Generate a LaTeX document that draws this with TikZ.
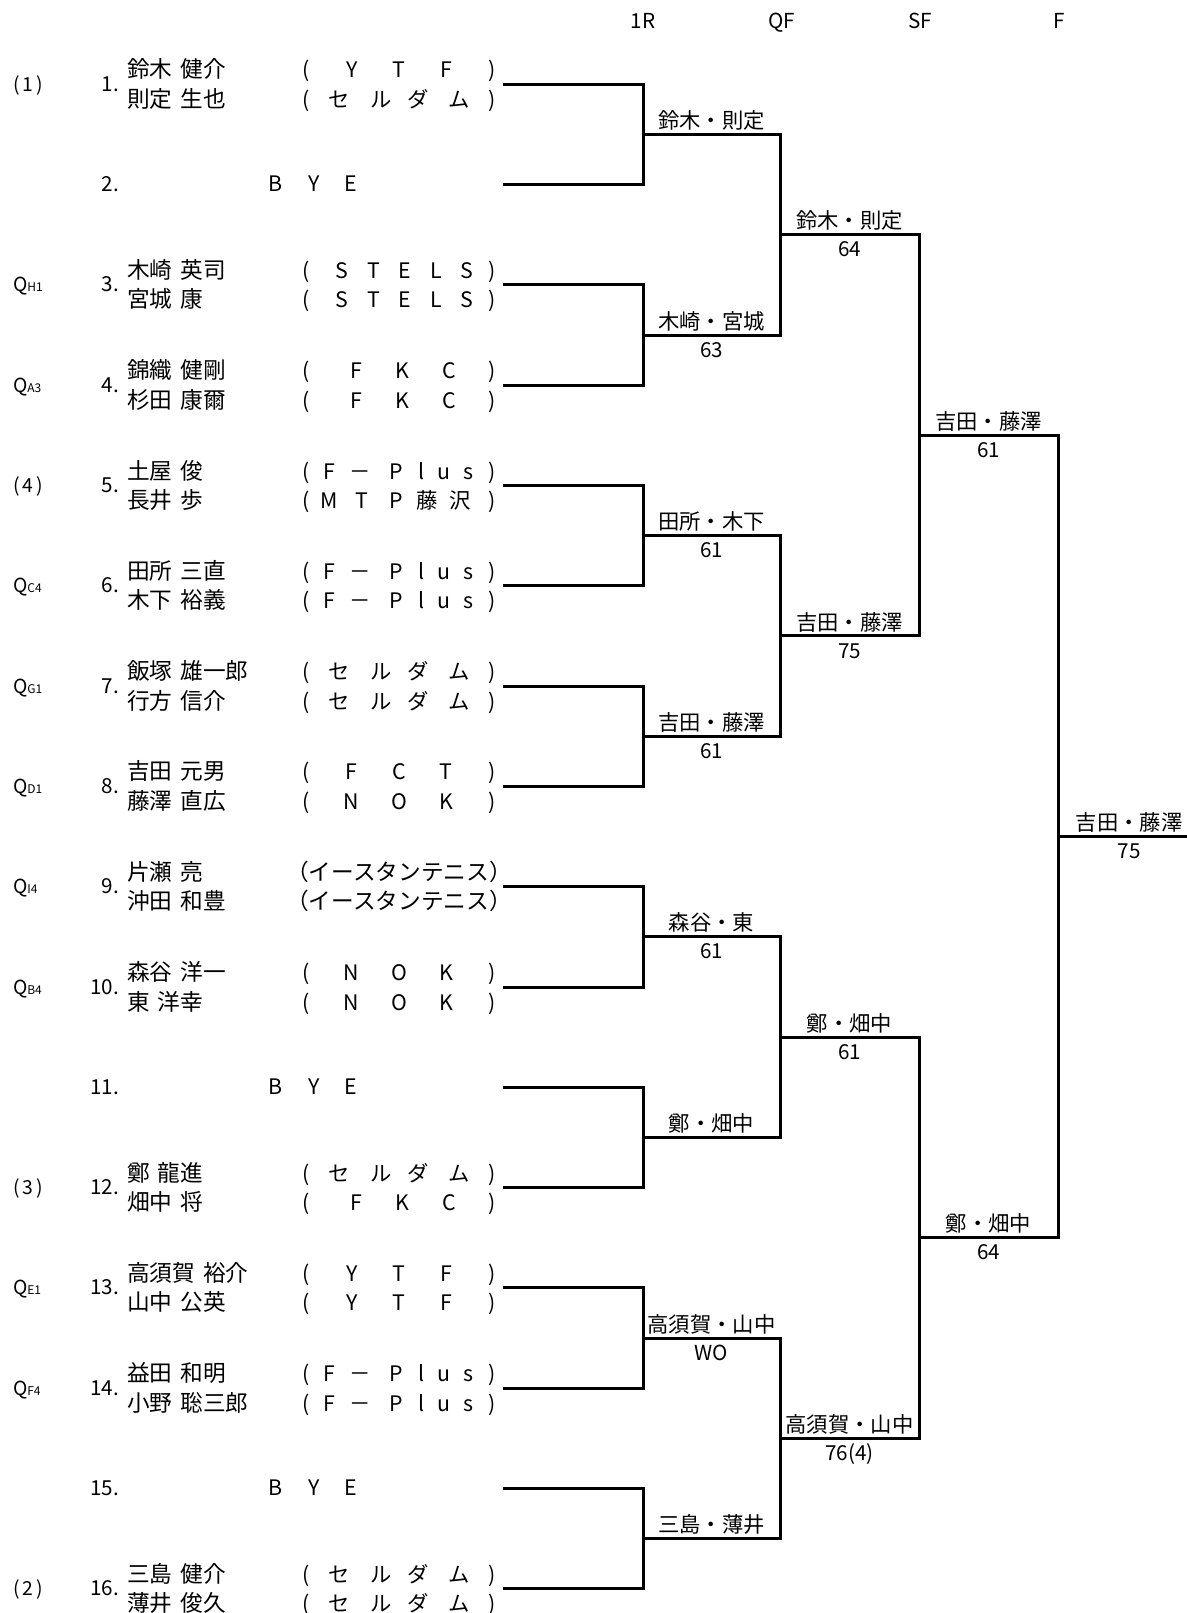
\documentclass[tikz,border=0pt]{standalone}
\usepackage{fontspec}
\usetikzlibrary{calc}
\setmainfont{Noto Sans CJK JP}
\newcommand\gp{\hspace{0.36em}}
\newcommand\qs[1]{Q{\fontsize{9}{9}\selectfont #1}}
\def\tYTF{306/{(},352/Y,399/T,446/F,492/{)}}
\def\tSEL{306/{(},339/セ,381/ル,418/ダ,459/ム,492/{)}}
\def\tSTE{306/{(},342/S,374/T,405/E,436/L,467/S,492/{)}}
\def\tFKC{306/{(},356/F,402/K,449/C,492/{)}}
\def\tFP{306/{(},329/F,360/－,396/P,422/l,444/u,468/s,492/{)}}
\def\tMTP{306/{(},329/M,362/T,396/P,427/藤,460/沢,492/{)}}
\def\tFCT{306/{(},351/F,399/C,446/T,492/{)}}
\def\tNOK{306/{(},351/N,399/O,446/K,492/{)}}
\def\tEST{399/{\fontsize{17}{18}\selectfont（イースタンテニス）}}
\newcommand\pairentry[7]{%
  \node[num] (n#1) at (119,{#2+2}) {#1.};
  \node[seed] (sd#1) at (13,{#2+2}) {#3};
  \node[nm] (pa#1) at (127,{#2-11.5}) {#4};
  \node[nm] (pb#1) at (127,{#2+18}) {#6};
  \foreach \xx/\cc [count=\k] in #5 {\node[tm] (ta#1-\k) at (\xx,{#2-11.5}) {\cc};}
  \foreach \xx/\cc [count=\k] in #7 {\node[tm] (tb#1-\k) at (\xx,{#2+18}) {\cc};}
}
\newcommand\byeentry[2]{%
  \node[num] (n#1) at (119,{#2+2}) {#1.};
  \node[tm] (bb#1) at (276,{#2+2}) {B};
  \node[tm] (by#1) at (314,{#2+2}) {Y};
  \node[tm] (be#1) at (351,{#2+2}) {E};
}
\begin{document}
\begin{tikzpicture}[x=0.75pt,y=-0.75pt,
  every node/.style={inner sep=0pt,outer sep=0pt,text height=0.76em,text depth=0pt},
  nm/.style={font=\fontsize{17}{18}\selectfont,anchor=west},
  tm/.style={font=\fontsize{16}{17}\selectfont},
  num/.style={font=\fontsize{15.5}{16}\selectfont,anchor=east},
  seed/.style={font=\fontsize{14.5}{16}\selectfont,anchor=west},
  hdr/.style={font=\fontsize{15.5}{16}\selectfont},
  win/.style={font=\fontsize{16}{17}\selectfont},
  sc/.style={font=\fontsize{15.5}{16}\selectfont},
  br/.style={line width=2.25pt,line join=miter}]
\useasboundingbox (0,0) rectangle (1186,1613);
% headers
\node[hdr] (h1) at (643,23) {1R};
\node[hdr] (h2) at (782,23) {QF};
\node[hdr] (h3) at (920,23) {SF};
\node[hdr] (h4) at (1059,23) {F};
% entries
\pairentry{1}{84.3}{(\,1\,)}{鈴木\gp 健介}{\tYTF}{則定\gp 生也}{\tSEL}
\byeentry{2}{184.6}
\pairentry{3}{284.9}{\qs{H1}}{木崎\gp 英司}{\tSTE}{宮城\gp 康}{\tSTE}
\pairentry{4}{385.2}{\qs{A3}}{錦織\gp 健剛}{\tFKC}{杉田\gp 康爾}{\tFKC}
\pairentry{5}{485.5}{(\,4\,)}{土屋\gp 俊}{\tFP}{長井\gp 歩}{\tMTP}
\pairentry{6}{585.8}{\qs{C4}}{田所\gp 三直}{\tFP}{木下\gp 裕義}{\tFP}
\pairentry{7}{686.1}{\qs{G1}}{飯塚\gp 雄一郎}{\tSEL}{行方\gp 信介}{\tSEL}
\pairentry{8}{786.4}{\qs{D1}}{吉田\gp 元男}{\tFCT}{藤澤\gp 直広}{\tNOK}
\pairentry{9}{886.7}{\qs{I4}}{片瀬\gp 亮}{\tEST}{沖田\gp 和豊}{\tEST}
\pairentry{10}{987.0}{\qs{B4}}{森谷\gp 洋一}{\tNOK}{東\gp 洋幸}{\tNOK}
\byeentry{11}{1087.3}
\pairentry{12}{1187.6}{(\,3\,)}{鄭\gp 龍進}{\tSEL}{畑中\gp 将}{\tFKC}
\pairentry{13}{1287.9}{\qs{E1}}{高須賀\gp 裕介}{\tYTF}{山中\gp 公英}{\tYTF}
\pairentry{14}{1388.2}{\qs{F4}}{益田\gp 和明}{\tFP}{小野\gp 聡三郎}{\tFP}
\byeentry{15}{1488.5}
\pairentry{16}{1588.8}{(\,2\,)}{三島\gp 健介}{\tSEL}{薄井\gp 俊久}{\tSEL}
% bracket points
\foreach \i in {1,...,16} {\coordinate (s\i) at (503,{84.3+100.3*(\i-1)});}
\foreach \i in {1,...,8} {\coordinate (a\i) at (643,{134.45+200.6*(\i-1)});}
\foreach \i in {1,...,4} {\coordinate (b\i) at (780,{234.75+401.2*(\i-1)});}
\coordinate (c1) at (919,435.35);
\coordinate (c2) at (919,1237.75);
\coordinate (d1) at (1058,836.55);
\coordinate (e1) at (1190,836.55);
% brackets
\foreach \i [evaluate=\i as \j using int(2*\i-1), evaluate=\i as \m using int(2*\i)] in {1,...,8}
  {\draw[br] (s\j) -| (a\i) |- (s\m);}
\foreach \i [evaluate=\i as \j using int(2*\i-1), evaluate=\i as \m using int(2*\i)] in {1,...,4}
  {\draw[br] (a\j) -| (b\i) |- (a\m);}
\draw[br] (b1) -| (c1) |- (b2);
\draw[br] (b3) -| (c2) |- (b4);
\draw[br] (c1) -| (d1) |- (c2);
\draw[br] (d1) -- (e1);
% winners and scores
\node[win] (wa1) at ($(a1)+(68.5,-11)$) {鈴木・則定};
\node[win] (wa2) at ($(a2)+(68.5,-11)$) {木崎・宮城};
\node[sc]  (sa2) at ($(a2)+(68.5,17)$) {63};
\node[win] (wa3) at ($(a3)+(68.5,-11)$) {田所・木下};
\node[sc]  (sa3) at ($(a3)+(68.5,17)$) {61};
\node[win] (wa4) at ($(a4)+(68.5,-11)$) {吉田・藤澤};
\node[sc]  (sa4) at ($(a4)+(68.5,17)$) {61};
\node[win] (wa5) at ($(a5)+(68.5,-11)$) {森谷・東};
\node[sc]  (sa5) at ($(a5)+(68.5,17)$) {61};
\node[win] (wa6) at ($(a6)+(68.5,-11)$) {鄭・畑中};
\node[win] (wa7) at ($(a7)+(68.5,-11)$) {高須賀・山中};
\node[sc]  (sa7) at ($(a7)+(68.5,17)$) {WO};
\node[win] (wa8) at ($(a8)+(68.5,-11)$) {三島・薄井};
\node[win] (wb1) at ($(b1)+(69.5,-11)$) {鈴木・則定};
\node[sc]  (sb1) at ($(b1)+(69.5,17)$) {64};
\node[win] (wb2) at ($(b2)+(69.5,-11)$) {吉田・藤澤};
\node[sc]  (sb2) at ($(b2)+(69.5,17)$) {75};
\node[win] (wb3) at ($(b3)+(69.5,-11)$) {鄭・畑中};
\node[sc]  (sb3) at ($(b3)+(69.5,17)$) {61};
\node[win] (wb4) at ($(b4)+(69.5,-11)$) {高須賀・山中};
\node[sc]  (sb4) at ($(b4)+(69.5,17)$) {76(4)};
\node[win] (wc1) at ($(c1)+(69.5,-11)$) {吉田・藤澤};
\node[sc]  (sc1) at ($(c1)+(69.5,17)$) {61};
\node[win] (wc2) at ($(c2)+(69.5,-11)$) {鄭・畑中};
\node[sc]  (sc2) at ($(c2)+(69.5,17)$) {64};
\node[win] (wd1) at ($(d1)+(71,-11)$) {吉田・藤澤};
\node[sc]  (sd1) at ($(d1)+(71,17)$) {75};
\end{tikzpicture}
\end{document}
